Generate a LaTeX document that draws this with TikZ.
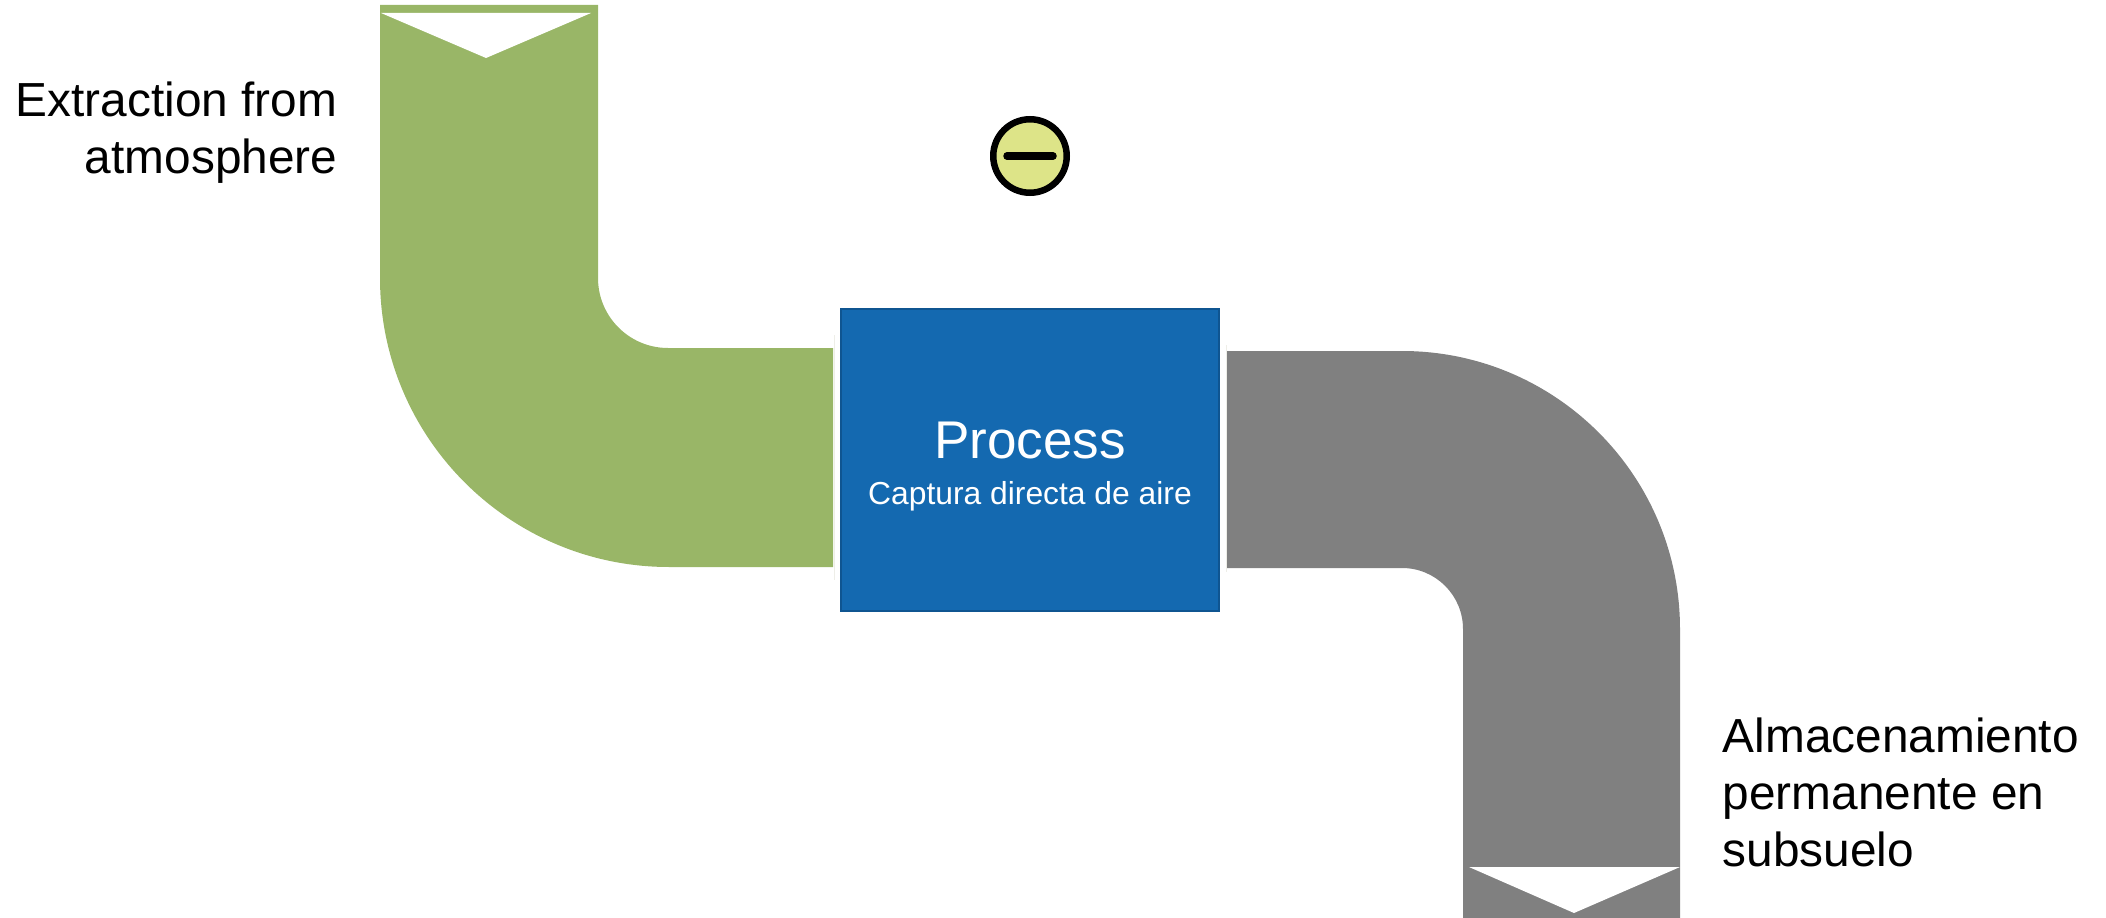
\documentclass[tikz,border=0pt]{standalone}
\usepackage{fontspec}
\setmainfont{Liberation Sans}
\usepackage{tikz}

\definecolor{flowgreen}{HTML}{99B667}
\definecolor{flowgray}{HTML}{808080}
\definecolor{boxblue}{HTML}{1469B0}
\definecolor{boxedge}{HTML}{0F5591}
\definecolor{signfill}{HTML}{DDE488}
\definecolor{seamline}{HTML}{EEEEE8}

\tikzset{
  flowlabel/.style={inner sep=0pt, font=\fontsize{13.6}{16.2}\selectfont},
  boxtext/.style={inner sep=0pt, text=white},
}

\begin{document}
\begin{tikzpicture}
    \useasboundingbox (0,0) rectangle (21.06,9.17);

    \fill[flowgreen] (3.80,9.12) -- (3.80,6.39) arc (180:270:2.89) -- (8.33,3.50) -- (8.33,5.69) -- (6.68,5.69) arc (270:180:0.70) -- (5.98,9.12) -- cycle;
    \fill[white] (3.81,9.04) -- (5.91,9.04) -- (4.86,8.59) -- cycle;

    \fill[flowgray] (12.27,5.66) -- (14.02,5.66) arc (90:0:2.78) -- (16.80,-0.02) -- (14.63,-0.02) -- (14.63,2.88) arc (0:90:0.61) -- (12.27,3.49) -- cycle;
    \fill[white] (14.69,0.50) -- (16.80,0.50) -- (15.74,0.04) -- cycle;

    \draw[seamline, line width=0.01cm] (8.34,3.37) -- (8.34,5.82);
    \draw[seamline, line width=0.01cm] (12.26,3.45) -- (12.26,5.72);

    \node[draw=boxedge, fill=boxblue, line width=0.025cm, minimum width=3.78cm, minimum height=3.02cm] (processbox) at (10.30,4.57) {};
    \node[boxtext, font=\fontsize{15.1}{17}\selectfont] (process) at (10.30,4.76) {Process};
    \node[boxtext, font=\fontsize{9.05}{11}\selectfont] (capture) at (10.30,4.21) {Captura directa de aire};

    \node[draw=black, fill=signfill, circle, line width=0.065cm, minimum size=0.735cm] (minus) at (10.30,7.61) {};
    \draw[line width=0.075cm, line cap=round] (10.07,7.61) -- (10.53,7.61);

    \node[flowlabel, align=right, anchor=east] (source) at (3.38,7.84) {Extraction from\\atmosphere};
    \node[flowlabel, align=left, anchor=west] (sink) at (17.22,1.25) {Almacenamiento\\permanente en\\subsuelo};
\end{tikzpicture}
\end{document}
